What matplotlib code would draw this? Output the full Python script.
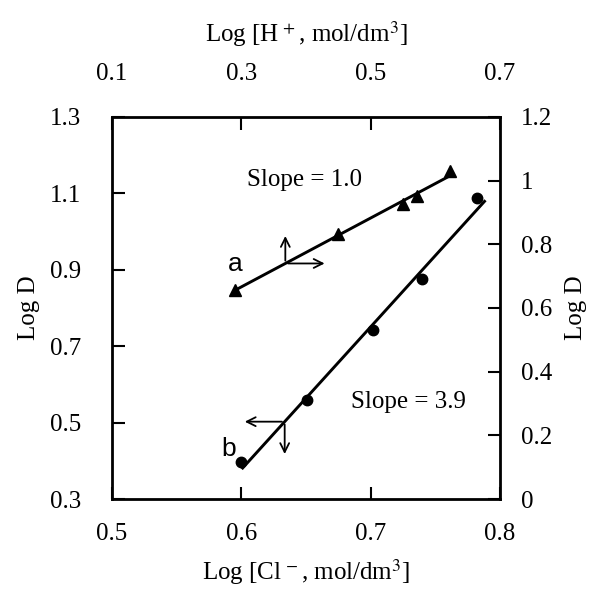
import numpy as np
import matplotlib
matplotlib.use('Agg')
import matplotlib.pyplot as plt

plt.rcParams['font.family'] = ['Liberation Serif', 'DejaVu Serif']
plt.rcParams['mathtext.fontset'] = 'stix'

# series a: Log[H+] (top axis) vs Log D (right axis)
h_log = [0.290, 0.449, 0.550, 0.572, 0.623]
d_a = [0.657, 0.831, 0.928, 0.951, 1.029]

# series b: Log[Cl-] (bottom axis) vs Log D (left axis)
cl_log = [0.600, 0.651, 0.702, 0.740, 0.782]
d_b = [0.397, 0.558, 0.742, 0.876, 1.087]

bottom_ticks = [0.5, 0.6, 0.7, 0.8]
left_ticks = [0.3, 0.5, 0.7, 0.9, 1.1, 1.3]
top_ticks = [0.1, 0.3, 0.5, 0.7]
right_ticks = [0, 0.2, 0.4, 0.6, 0.8, 1.0, 1.2]
right_labels = ['0', '0.2', '0.4', '0.6', '0.8', '1', '1.2']

fig = plt.figure(figsize=(5.97, 5.89), dpi=100)
pos = [0.1876, 0.1528, 0.650, 0.6486]
ax = fig.add_axes(pos)
ax2 = fig.add_axes(pos, frameon=False)

fs = 18

# bottom / left axes
ax.set_xlim(0.5, 0.8)
ax.set_ylim(0.3, 1.3)
ax.set_xticks(bottom_ticks)
ax.set_yticks(left_ticks)
ax.set_xticklabels(['0.5', '0.6', '0.7', '0.8'])
ax.set_yticklabels(['0.3', '0.5', '0.7', '0.9', '1.1', '1.3'])
ax.tick_params(direction='in', length=9, width=1.5, labelsize=fs)
ax.tick_params(axis='x', pad=17)
ax.tick_params(axis='y', pad=22)
ax.set_xlabel('Log [Cl$^{\\,-}$, mol/dm$^3$]', fontsize=fs, labelpad=9)
ax.set_ylabel('Log D', fontsize=fs, labelpad=7)
for s in ax.spines.values():
    s.set_linewidth(2.0)

# top / right axes
ax2.set_xlim(0.1, 0.7)
ax2.set_ylim(0, 1.2)
ax2.xaxis.tick_top()
ax2.yaxis.tick_right()
ax2.xaxis.set_label_position('top')
ax2.yaxis.set_label_position('right')
ax2.set_xticks(top_ticks)
ax2.set_yticks(right_ticks)
ax2.set_xticklabels(['0.1', '0.3', '0.5', '0.7'])
ax2.set_yticklabels(right_labels)
ax2.tick_params(direction='in', length=9, width=1.5, labelsize=fs)
ax2.tick_params(axis='x', pad=23)
ax2.tick_params(axis='y', pad=15)
ax2.set_xlabel('Log [H$^{\\,+}$, mol/dm$^3$]', fontsize=fs, labelpad=15)
ax2.set_ylabel('Log D', fontsize=fs, labelpad=9)

# series a
ax2.plot(h_log, d_a, linestyle='none', marker='^', markersize=9, color='black')
ka, ba = np.polyfit(h_log, d_a, 1)
xa = np.array([h_log[0], h_log[-1]])
ax2.plot(xa, ka * xa + ba, color='black', linewidth=2.1)

# series b
ax.plot(cl_log, d_b, linestyle='none', marker='o', markersize=7.5, color='black')
kb, bb = np.polyfit(cl_log, d_b, 1)
xb = np.array([0.601, 0.788])
ax.plot(xb, kb * xb + bb, color='black', linewidth=2.1)

# direction arrows
arr = dict(arrowstyle='->', color='black', lw=1.3, mutation_scale=16)
oa = (0.368, ka * 0.368 + ba)
ax2.annotate('', xy=(oa[0], oa[1] + 0.095), xytext=oa, arrowprops=arr)
ax2.annotate('', xy=(oa[0] + 0.065, oa[1]), xytext=oa, arrowprops=arr)
ob = (0.6335, kb * 0.6335 + bb)
ax.annotate('', xy=(ob[0] - 0.033, ob[1]), xytext=ob, arrowprops=arr)
ax.annotate('', xy=(ob[0], ob[1] - 0.092), xytext=ob, arrowprops=arr)

ax.text(0.595, 0.916, 'a', fontsize=19, family=['Liberation Sans'], ha='center', va='center')
ax.text(0.590, 0.432, 'b', fontsize=19, family=['Liberation Sans'], ha='center', va='center')
ax.text(0.649, 1.134, 'Slope = 1.0', fontsize=fs, ha='center', va='center')
ax.text(0.729, 0.555, 'Slope = 3.9', fontsize=fs, ha='center', va='center')

fig.savefig('out.png', dpi=100)
